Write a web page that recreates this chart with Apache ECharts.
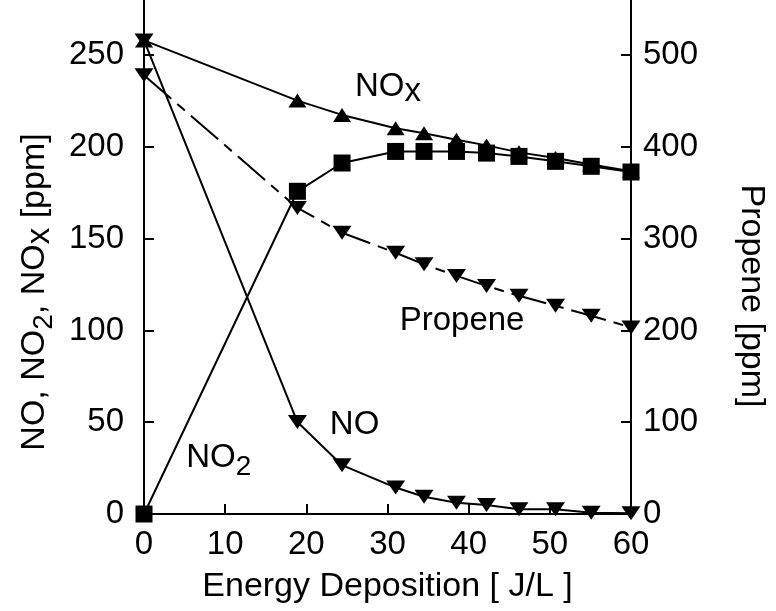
<!DOCTYPE html>
<html><head><meta charset="utf-8">
<script src="https://cdn.jsdelivr.net/npm/echarts@6/dist/echarts.min.js"></script>
<style>html,body{margin:0;padding:0;background:#fff}#c{width:776px;height:611px}</style>
</head><body><div id="c"></div>
<script>
// Energy deposition [J/L]
const energy  = [0, 18.9, 24.4, 31.0, 34.5, 38.5, 42.2, 46.2, 50.7, 55.1, 60];
// left axis [ppm]
const noVals  = [258, 50.1, 26.6, 14.4, 9.4, 6.1, 4.9, 2.6, 2.6, 0.7, 0.4];
const no2Vals = [0, 175.8, 191.2, 197.5, 197.5, 197.5, 196.6, 194.8, 192.1, 189.4, 186.3];
const noxVals = [258, 225.2, 217.4, 210.1, 207.4, 203.9, 200.8, 197.0, 193.9, 190.4, 186.7];
// right axis [ppm]
const propeneVals = [478, 333.5, 306.4, 284.6, 272.0, 259.4, 248.5, 237.7, 226.8, 216.0, 203.3];

const xTickStep = 10, leftTickStep = 50, rightTickStep = 100;

const FONT = "'Liberation Sans', Arial, Helvetica, sans-serif";
const FS = 33;
const pair = (xs, ys) => xs.map((x, i) => [x, ys[i]]);

const downTri = 'path://M0,0 L20,0 L10,15 Z M13.6,4.6 L16.0,5.8 L11.6,12.6 L9.6,11.4 Z';

const chart = echarts.init(document.getElementById('c'), null, {renderer: 'canvas'});
const axisCommon = {
  axisLine: {show: true, lineStyle: {color: '#000', width: 2}},
  axisTick: {show: true, inside: true, length: 10, lineStyle: {color: '#000', width: 2}},
  splitLine: {show: false},
  axisLabel: {color: '#000', fontSize: FS, fontFamily: FONT, margin: 14},
  nameTextStyle: {color: '#000', fontSize: 34, fontFamily: FONT}
};
const sub = {fontSize: 28, fontFamily: FONT, color: '#000', padding: [18, 0, 0, 0]};
const subx = {fontSize: 33, fontFamily: FONT, color: '#000', padding: [10, 0, 0, 0]};
const main = {fontSize: 34, fontFamily: FONT, color: '#000'};

chart.setOption({
  animation: false,
  backgroundColor: '#fff',
  grid: {left: 144, right: 125, top: -2, bottom: 97, containLabel: false},
  xAxis: Object.assign({}, axisCommon, {
    type: 'value', min: 0, max: 60, interval: xTickStep,
    name: 'Energy Deposition [ J/L ]', nameLocation: 'middle', nameGap: 56,
    nameTextStyle: {color: '#000', fontSize: 34, fontFamily: FONT}
  }),
  yAxis: [
    Object.assign({}, axisCommon, {
      type: 'value', min: 0, max: 280, interval: leftTickStep, position: 'left',
      axisLabel: Object.assign({}, axisCommon.axisLabel, {showMaxLabel: false, margin: 20}),
      name: '{m|NO, NO}{s|2}{m|, NO}{x|x}{m| [ppm]}', nameLocation: 'middle', nameRotate: 90, nameGap: 86,
      nameTextStyle: {color: '#000', fontSize: 34, fontFamily: FONT, padding: [0, 70, 0, 0],
        rich: {m: main, s: sub, x: subx}}
    }),
    Object.assign({}, axisCommon, {
      type: 'value', min: 0, max: 560, interval: rightTickStep, position: 'right',
      axisLabel: Object.assign({}, axisCommon.axisLabel, {showMaxLabel: false, margin: 12}),
      name: 'Propene [ppm]', nameLocation: 'middle', nameRotate: -90, nameGap: 103,
      nameTextStyle: {color: '#000', fontSize: 34, fontFamily: FONT, padding: [0, 0, 0, 78]}
    })
  ],
  series: [
    {name: 'NOx', type: 'line', data: pair(energy, noxVals), yAxisIndex: 0,
     symbol: 'triangle', symbolSize: [18, 14],
     lineStyle: {color: '#000', width: 2}, itemStyle: {color: '#000'}},
    {name: 'NO2', type: 'line', data: pair(energy, no2Vals), yAxisIndex: 0,
     symbol: 'rect', symbolSize: 17,
     lineStyle: {color: '#000', width: 2}, itemStyle: {color: '#000'}},
    {name: 'NO', type: 'line', data: pair(energy, noVals), yAxisIndex: 0,
     symbol: downTri, symbolSize: [19, 14],
     lineStyle: {color: '#000', width: 2}, itemStyle: {color: '#000'}},
    {name: 'Propene', type: 'line', data: pair(energy, propeneVals), yAxisIndex: 1,
     symbol: downTri, symbolSize: [19, 14],
     lineStyle: {color: '#000', width: 2, type: [36, 8, 10, 8]}, itemStyle: {color: '#000'}}
  ]
});

// in-plot annotations (anchored in data coordinates)
const notes = [
  {at: [26.0, 232.8], text: '{m|NO}{x|x}'},
  {at: [31.5, 105.3], text: '{m|Propene}'},
  {at: [22.9, 48.8], text: '{m|NO}'},
  {at: [5.2, 30.4], text: '{m|NO}{s|2}'}
];
const lab = {fontSize: 33, fontFamily: FONT, color: '#000'};
chart.setOption({
  graphic: notes.map(n => {
    const p = chart.convertToPixel({xAxisIndex: 0, yAxisIndex: 0}, n.at);
    return {type: 'text', x: p[0], y: p[1], z: 10,
      style: {text: n.text, align: 'left', verticalAlign: 'middle',
        rich: {m: lab, s: sub, x: subx}}};
  })
});
</script></body></html>
